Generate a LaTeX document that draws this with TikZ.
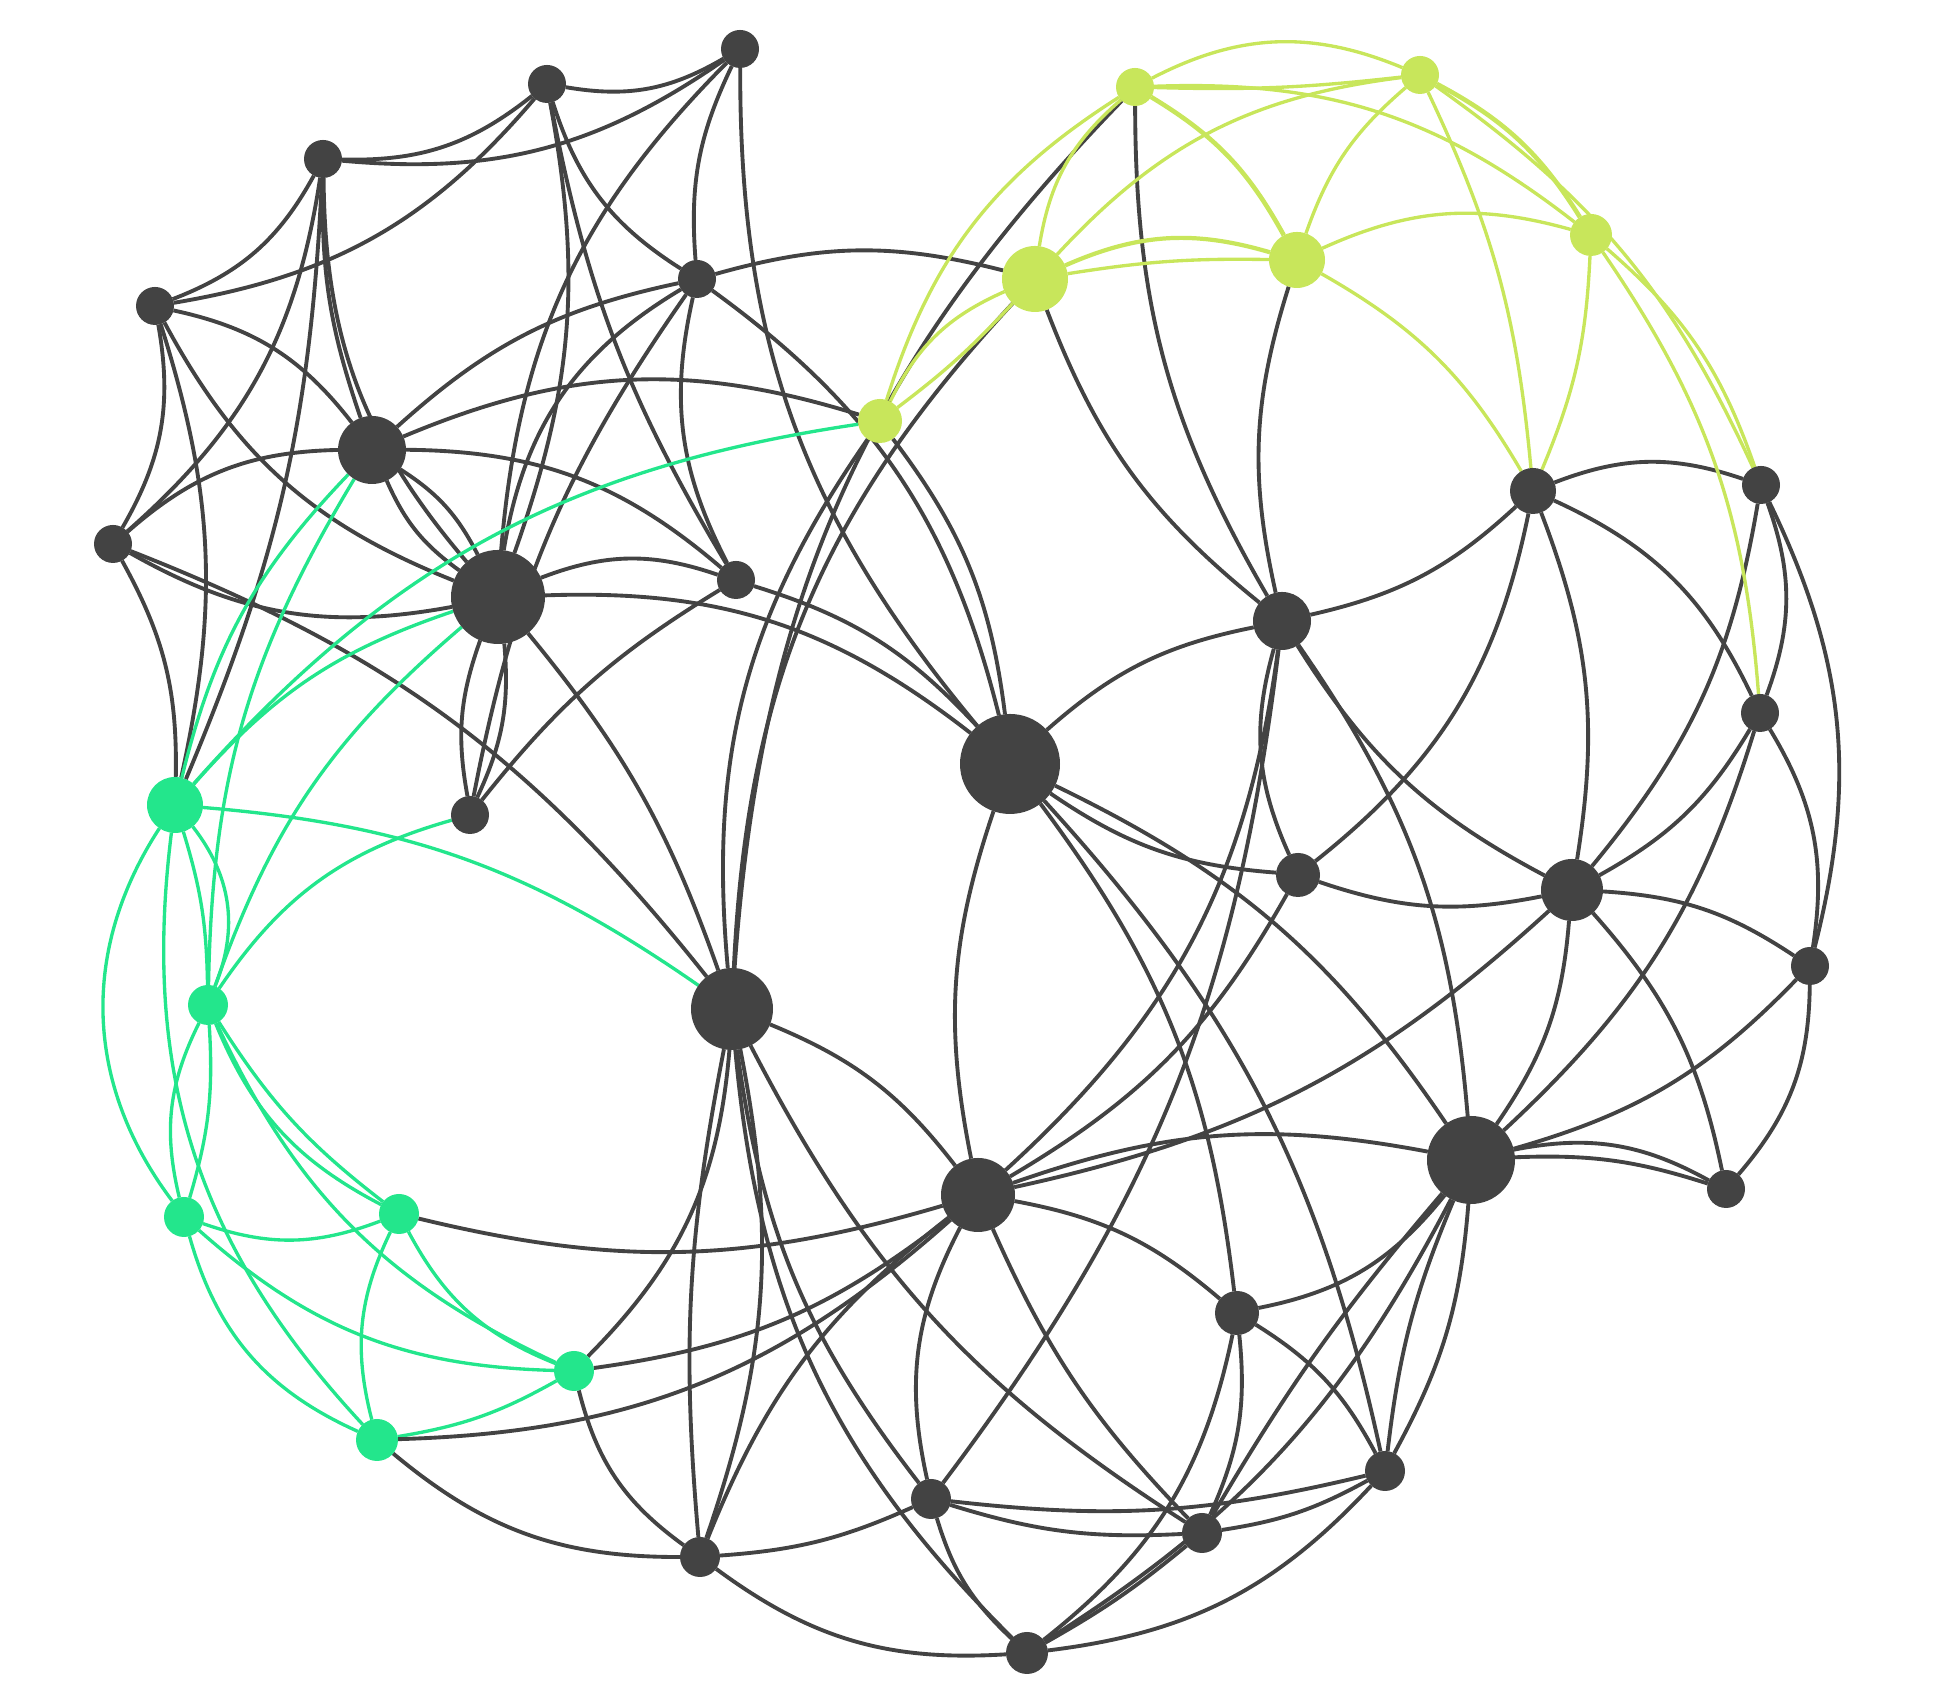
\documentclass[tikz,border=0pt]{standalone}
\usepackage{tkz-graph}
\usetikzlibrary{arrows}
\usetikzlibrary{shapes}
\usetikzlibrary{backgrounds}
\definecolor{ink}{HTML}{434343}
\definecolor{mint}{HTML}{23E68C}
\definecolor{lime}{HTML}{C8E65B}

\begin{document}
\begin{tikzpicture}
\useasboundingbox (0,0) rectangle (19.42,17.04);
\tikzstyle{VertexStyle} = []
\tikzstyle{EdgeStyle} = []
\tikzstyle{inkStyle}=[shape = circle, inner sep = 0pt, draw = none, fill = ink]
\tikzstyle{mintStyle}=[shape = circle, inner sep = 0pt, draw = none, fill = mint]
\tikzstyle{limeStyle}=[shape = circle, inner sep = 0pt, draw = none, fill = lime]
\tikzstyle{inkEdge}=[draw = ink, line width = 1.1pt]
\tikzstyle{mintEdge}=[draw = mint, line width = 0.95pt]
\tikzstyle{limeEdge}=[draw = lime, line width = 0.95pt]
\Vertex[style = {inkStyle, minimum size = 0.38cm}, x = 7.40, y = 16.55, NoLabel]{d1}
\Vertex[style = {inkStyle, minimum size = 0.38cm}, x = 5.47, y = 16.20, NoLabel]{d2}
\Vertex[style = {inkStyle, minimum size = 0.38cm}, x = 3.23, y = 15.45, NoLabel]{d3}
\Vertex[style = {inkStyle, minimum size = 0.38cm}, x = 1.55, y = 13.98, NoLabel]{d4}
\Vertex[style = {inkStyle, minimum size = 0.38cm}, x = 1.13, y = 11.60, NoLabel]{d5}
\Vertex[style = {inkStyle, minimum size = 0.68cm}, x = 3.72, y = 12.54, NoLabel]{d6}
\Vertex[style = {inkStyle, minimum size = 0.94cm}, x = 4.98, y = 11.07, NoLabel]{d7}
\Vertex[style = {inkStyle, minimum size = 0.38cm}, x = 6.97, y = 14.25, NoLabel]{d8}
\Vertex[style = {inkStyle, minimum size = 0.38cm}, x = 7.36, y = 11.24, NoLabel]{d9}
\Vertex[style = {inkStyle, minimum size = 0.38cm}, x = 4.70, y = 8.89, NoLabel]{d10}
\Vertex[style = {inkStyle, minimum size = 0.46cm}, x = 15.33, y = 12.13, NoLabel]{d11}
\Vertex[style = {inkStyle, minimum size = 0.38cm}, x = 17.61, y = 12.19, NoLabel]{d12}
\Vertex[style = {inkStyle, minimum size = 0.58cm}, x = 12.82, y = 10.83, NoLabel]{d13}
\Vertex[style = {inkStyle, minimum size = 1.00cm}, x = 10.10, y = 9.40, NoLabel]{d14}
\Vertex[style = {inkStyle, minimum size = 0.82cm}, x = 7.32, y = 6.95, NoLabel]{d15}
\Vertex[style = {inkStyle, minimum size = 0.74cm}, x = 9.78, y = 5.09, NoLabel]{d16}
\Vertex[style = {inkStyle, minimum size = 0.44cm}, x = 12.98, y = 8.29, NoLabel]{d17}
\Vertex[style = {inkStyle, minimum size = 0.62cm}, x = 15.72, y = 8.14, NoLabel]{d18}
\Vertex[style = {inkStyle, minimum size = 0.38cm}, x = 18.10, y = 7.38, NoLabel]{d19}
\Vertex[style = {inkStyle, minimum size = 0.38cm}, x = 17.60, y = 9.91, NoLabel]{d20}
\Vertex[style = {inkStyle, minimum size = 0.88cm}, x = 14.71, y = 5.44, NoLabel]{d21}
\Vertex[style = {inkStyle, minimum size = 0.38cm}, x = 17.26, y = 5.15, NoLabel]{d22}
\Vertex[style = {inkStyle, minimum size = 0.44cm}, x = 12.37, y = 3.91, NoLabel]{d23}
\Vertex[style = {inkStyle, minimum size = 0.40cm}, x = 13.85, y = 2.33, NoLabel]{d24}
\Vertex[style = {inkStyle, minimum size = 0.40cm}, x = 12.02, y = 1.71, NoLabel]{d25}
\Vertex[style = {inkStyle, minimum size = 0.42cm}, x = 10.27, y = 0.51, NoLabel]{d26}
\Vertex[style = {inkStyle, minimum size = 0.40cm}, x = 9.31, y = 2.05, NoLabel]{d27}
\Vertex[style = {inkStyle, minimum size = 0.40cm}, x = 7.00, y = 1.47, NoLabel]{d28}
\Vertex[style = {mintStyle, minimum size = 0.56cm}, x = 1.75, y = 8.99, NoLabel]{g1}
\Vertex[style = {mintStyle, minimum size = 0.40cm}, x = 2.08, y = 6.99, NoLabel]{g2}
\Vertex[style = {mintStyle, minimum size = 0.40cm}, x = 1.84, y = 4.87, NoLabel]{g3}
\Vertex[style = {mintStyle, minimum size = 0.40cm}, x = 3.99, y = 4.90, NoLabel]{g4}
\Vertex[style = {mintStyle, minimum size = 0.40cm}, x = 5.74, y = 3.33, NoLabel]{g5}
\Vertex[style = {mintStyle, minimum size = 0.42cm}, x = 3.77, y = 2.64, NoLabel]{g6}
\Vertex[style = {limeStyle, minimum size = 0.44cm}, x = 8.80, y = 12.83, NoLabel]{y1}
\Vertex[style = {limeStyle, minimum size = 0.66cm}, x = 10.35, y = 14.25, NoLabel]{y2}
\Vertex[style = {limeStyle, minimum size = 0.38cm}, x = 11.35, y = 16.17, NoLabel]{y3}
\Vertex[style = {limeStyle, minimum size = 0.38cm}, x = 14.20, y = 16.29, NoLabel]{y4}
\Vertex[style = {limeStyle, minimum size = 0.56cm}, x = 12.97, y = 14.44, NoLabel]{y5}
\Vertex[style = {limeStyle, minimum size = 0.42cm}, x = 15.91, y = 14.69, NoLabel]{y6}
\begin{pgfonlayer}{background}
% upper left web
\Edge[style = {inkEdge, bend right = 20}](d2)(d1)
\Edge[style = {inkEdge, bend right = 20}](d3)(d2)
\Edge[style = {inkEdge, bend right = 20}](d3)(d1)
\Edge[style = {inkEdge, bend right = 20}](d4)(d3)
\Edge[style = {inkEdge, bend right = 20}](d4)(d2)
\Edge[style = {inkEdge, bend right = 20}](d5)(d4)
\Edge[style = {inkEdge, bend right = 15}](d1)(d8)
\Edge[style = {inkEdge, bend right = 20}](d1)(d14)
\Edge[style = {inkEdge, bend right = 20}](d1)(d7)
\Edge[style = {inkEdge, bend right = 15}](d7)(d2)
\Edge[style = {inkEdge, bend right = 10}](d2)(d9)
\Edge[style = {inkEdge, bend right = 20}](d2)(d8)
\Edge[style = {inkEdge, bend right = 10}](d3)(d6)
\Edge[style = {inkEdge, bend right = 20}](d3)(d7)
\Edge[style = {inkEdge, bend right = 20}](d5)(d3)
\Edge[style = {inkEdge, bend right = 10}](g1)(d3)
\Edge[style = {inkEdge, bend right = 20}](d6)(d4)
\Edge[style = {inkEdge, bend right = 20}](d4)(d7)
\Edge[style = {inkEdge, bend right = 15}](g1)(d4)
\Edge[style = {inkEdge, bend right = 20}](d6)(d5)
\Edge[style = {inkEdge, bend right = 20}](d5)(d7)
\Edge[style = {inkEdge, bend right = 15}](d15)(d5)
\Edge[style = {inkEdge, bend right = 15}](g1)(d5)
\Edge[style = {inkEdge, bend right = 15}](d6)(d7)
\Edge[style = {inkEdge, bend right = 15}](d7)(d6)
\Edge[style = {inkEdge, bend right = 15}](d8)(d6)
\Edge[style = {inkEdge, bend right = 20}](y1)(d6)
\Edge[style = {inkEdge, bend right = 20}](d9)(d6)
\Edge[style = {inkEdge, bend right = 25}](d8)(d7)
\Edge[style = {inkEdge, bend right = 12}](d8)(d10)
\Edge[style = {inkEdge, bend right = 20}](d9)(d7)
\Edge[style = {inkEdge, bend right = 20}](d14)(d7)
\Edge[style = {inkEdge, bend right = 15}](d7)(d10)
\Edge[style = {inkEdge, bend right = 15}](d10)(d7)
\Edge[style = {inkEdge, bend right = 10}](d9)(d10)
\Edge[style = {inkEdge, bend right = 20}](d8)(d9)
\Edge[style = {inkEdge, bend right = 15}](d14)(d9)
\Edge[style = {inkEdge, bend right = 15}](y2)(d8)
\Edge[style = {inkEdge, bend right = 20}](d14)(d8)
\Edge[style = {inkEdge, bend right = 15}](d14)(y1)
\Edge[style = {inkEdge, bend right = 20}](y1)(d15)
\Edge[style = {inkEdge, bend right = 20}](y2)(d15)
\Edge[style = {inkEdge, bend right = 20}](y3)(d15)
% green ring
\Edge[style = {mintEdge, bend right = 20}](y1)(g1)
\Edge[style = {mintEdge, bend right = 15}](d7)(g1)
\Edge[style = {mintEdge, bend right = 15}](d15)(g1)
\Edge[style = {mintEdge, bend right = 15}](d6)(g1)
\Edge[style = {mintEdge, bend right = 15}](d6)(g2)
\Edge[style = {mintEdge, bend right = 15}](d7)(g2)
\Edge[style = {mintEdge, bend right = 20}](d10)(g2)
\Edge[style = {mintEdge, bend right = 8}](g2)(g1)
\Edge[style = {mintEdge, bend right = 30}](g2)(g1)
\Edge[style = {mintEdge, bend right = 35}](g1)(g3)
\Edge[style = {mintEdge, bend right = 25}](g1)(g6)
\Edge[style = {mintEdge, bend right = 20}](g2)(g3)
\Edge[style = {mintEdge, bend right = 10}](g3)(g2)
\Edge[style = {mintEdge, bend right = 20}](g2)(g4)
\Edge[style = {mintEdge, bend right = 10}](g2)(g4)
\Edge[style = {mintEdge, bend right = 20}](g2)(g5)
\Edge[style = {mintEdge, bend right = 20}](g3)(g4)
\Edge[style = {mintEdge, bend right = 20}](g3)(g5)
\Edge[style = {mintEdge, bend right = 25}](g3)(g6)
\Edge[style = {mintEdge, bend right = 20}](g4)(g6)
\Edge[style = {mintEdge, bend right = 20}](g4)(g5)
\Edge[style = {mintEdge, bend right = 10}](g6)(g5)
\Edge[style = {inkEdge, bend right = 15}](g4)(d16)
\Edge[style = {inkEdge, bend right = 20}](g5)(d15)
\Edge[style = {inkEdge, bend right = 15}](g5)(d16)
\Edge[style = {inkEdge, bend right = 20}](g5)(d28)
\Edge[style = {inkEdge, bend right = 20}](g6)(d16)
\Edge[style = {inkEdge, bend right = 20}](g6)(d28)
% middle and lower part
\Edge[style = {inkEdge, bend right = 10}](d15)(d7)
\Edge[style = {inkEdge, bend right = 15}](d16)(d15)
\Edge[style = {inkEdge, bend right = 15}](d15)(d27)
\Edge[style = {inkEdge, bend right = 20}](d15)(d26)
\Edge[style = {inkEdge, bend right = 15}](d28)(d15)
\Edge[style = {inkEdge, bend right = 8}](d15)(d28)
\Edge[style = {inkEdge, bend right = 15}](d15)(d25)
\Edge[style = {inkEdge, bend right = 15}](d14)(d16)
\Edge[style = {inkEdge, bend right = 15}](d14)(d17)
\Edge[style = {inkEdge, bend right = 15}](d21)(d14)
\Edge[style = {inkEdge, bend right = 15}](d24)(d14)
\Edge[style = {inkEdge, bend right = 15}](d23)(d14)
\Edge[style = {inkEdge, bend right = 15}](d13)(d14)
\Edge[style = {inkEdge, bend right = 15}](d13)(d11)
\Edge[style = {inkEdge, bend right = 20}](d13)(d17)
\Edge[style = {inkEdge, bend right = 20}](d17)(d11)
\Edge[style = {inkEdge, bend right = 15}](d13)(d18)
\Edge[style = {inkEdge, bend right = 15}](d21)(d13)
\Edge[style = {inkEdge, bend right = 20}](d16)(d13)
\Edge[style = {inkEdge, bend right = 15}](d27)(d13)
\Edge[style = {inkEdge, bend right = 15}](y2)(d13)
\Edge[style = {inkEdge, bend right = 15}](y3)(d13)
\Edge[style = {inkEdge, bend right = 15}](y5)(d13)
% right part
\Edge[style = {inkEdge, bend right = 20}](d12)(d11)
\Edge[style = {inkEdge, bend right = 15}](d18)(d11)
\Edge[style = {inkEdge, bend right = 20}](d20)(d11)
\Edge[style = {limeEdge, bend right = 15}](d11)(y5)
\Edge[style = {limeEdge, bend right = 10}](d11)(y4)
\Edge[style = {limeEdge, bend right = 10}](d11)(y6)
\Edge[style = {inkEdge, bend right = 20}](d20)(d12)
\Edge[style = {inkEdge, bend right = 20}](d19)(d12)
\Edge[style = {inkEdge, bend right = 15}](d18)(d12)
\Edge[style = {limeEdge, bend right = 15}](d12)(y6)
\Edge[style = {limeEdge, bend right = 15}](d12)(y4)
\Edge[style = {limeEdge, bend right = 15}](d20)(y6)
\Edge[style = {inkEdge, bend right = 15}](d18)(d20)
\Edge[style = {inkEdge, bend right = 20}](d19)(d20)
\Edge[style = {inkEdge, bend right = 15}](d21)(d20)
\Edge[style = {inkEdge, bend right = 15}](d17)(d18)
\Edge[style = {inkEdge, bend right = 15}](d21)(d18)
\Edge[style = {inkEdge, bend right = 15}](d19)(d18)
\Edge[style = {inkEdge, bend right = 15}](d22)(d18)
\Edge[style = {inkEdge, bend right = 15}](d16)(d18)
\Edge[style = {inkEdge, bend right = 15}](d21)(d19)
\Edge[style = {inkEdge, bend right = 20}](d22)(d19)
\Edge[style = {inkEdge, bend right = 20}](d22)(d21)
\Edge[style = {inkEdge, bend right = 10}](d22)(d21)
\Edge[style = {inkEdge, bend right = 20}](d23)(d21)
\Edge[style = {inkEdge, bend right = 8}](d21)(d24)
\Edge[style = {inkEdge, bend right = 12}](d24)(d21)
\Edge[style = {inkEdge, bend right = 5}](d21)(d25)
\Edge[style = {inkEdge, bend right = 15}](d26)(d21)
\Edge[style = {inkEdge, bend right = 15}](d21)(d16)
\Edge[style = {inkEdge, bend right = 15}](d16)(d17)
\Edge[style = {inkEdge, bend right = 15}](d23)(d16)
\Edge[style = {inkEdge, bend right = 20}](d16)(d27)
\Edge[style = {inkEdge, bend right = 15}](d16)(d28)
\Edge[style = {inkEdge, bend right = 10}](d16)(d25)
\Edge[style = {inkEdge, bend right = 15}](d24)(d23)
\Edge[style = {inkEdge, bend right = 15}](d25)(d23)
\Edge[style = {inkEdge, bend right = 20}](d26)(d23)
\Edge[style = {inkEdge, bend right = 10}](d25)(d24)
\Edge[style = {inkEdge, bend right = 10}](d27)(d25)
\Edge[style = {inkEdge, bend right = 10}](d27)(d24)
\Edge[style = {inkEdge, bend right = 20}](d26)(d24)
\Edge[style = {inkEdge, bend right = 5}](d26)(d25)
\Edge[style = {inkEdge, bend right = 15}](d27)(d26)
\Edge[style = {inkEdge, bend right = 20}](d28)(d26)
\Edge[style = {inkEdge, bend right = 10}](d28)(d27)
% top arc
\Edge[style = {limeEdge, bend right = 25}](y4)(y3)
\Edge[style = {limeEdge, bend right = 4}](y3)(y4)
\Edge[style = {limeEdge, bend right = 20}](y6)(y3)
\Edge[style = {limeEdge, bend right = 20}](y4)(y2)
\Edge[style = {limeEdge, bend right = 20}](y3)(y2)
\Edge[style = {limeEdge, bend right = 15, line width = 1.3pt}](y5)(y3)
\Edge[style = {limeEdge, bend right = 20}](y3)(y1)
\Edge[style = {limeEdge, bend right = 15}](y4)(y5)
\Edge[style = {limeEdge, bend right = 15, line width = 1.3pt}](y6)(y4)
\Edge[style = {limeEdge, bend right = 20, line width = 1.2pt}](y5)(y2)
\Edge[style = {limeEdge, bend right = 5}](y5)(y2)
\Edge[style = {limeEdge, bend right = 20}](y6)(y5)
\Edge[style = {limeEdge, bend right = 20}](y2)(y1)
\Edge[style = {limeEdge, bend right = 5}](y1)(y2)
\end{pgfonlayer}
\end{tikzpicture}
\end{document}
